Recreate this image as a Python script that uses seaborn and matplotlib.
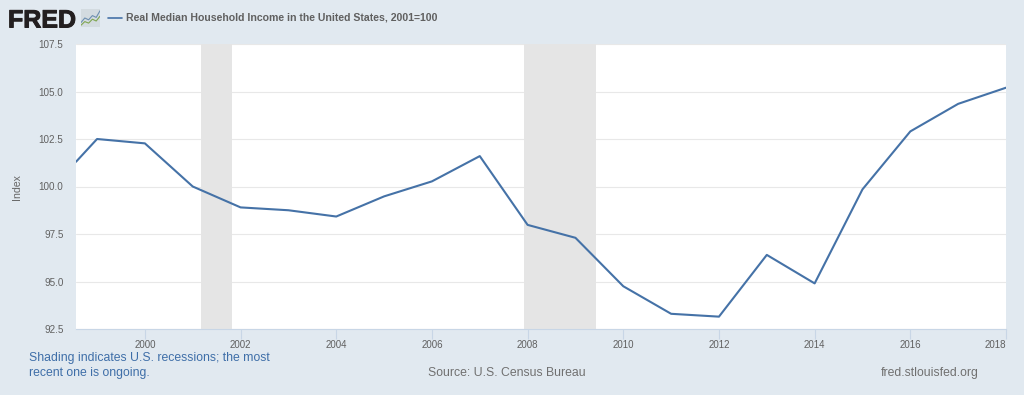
import matplotlib
matplotlib.use('Agg')
import matplotlib.pyplot as plt
import matplotlib.patheffects as pe
import pandas as pd
import seaborn as sns

# Values
years = [1998.56, 1999, 2000, 2001, 2002, 2003, 2004, 2005, 2006, 2007, 2008,
         2009, 2010, 2011, 2012, 2013, 2014, 2015, 2016, 2017, 2018]
income = [101.3, 102.5, 102.27, 100.0, 98.9, 98.75, 98.42, 99.48, 100.27, 101.6, 97.98,
          97.3, 94.75, 93.3, 93.15, 96.4, 94.9, 99.85, 102.9, 104.35, 105.2]
recessions = [(2001.17, 2001.83), (2007.92, 2009.42)]
x_ticks = [2000, 2002, 2004, 2006, 2008, 2010, 2012, 2014, 2016, 2018]
y_ticks = [92.5, 95.0, 97.5, 100.0, 102.5, 105.0, 107.5]

# Small logo icon lines
icon_x = [0, 1, 2, 3, 4, 5]
icon_blue = [1.5, 3.0, 2.4, 3.8, 3.2, 5.4]
icon_green = [0.6, 1.8, 1.3, 2.6, 2.0, 3.6]

BG = '#e1e9f0'
LINE = '#4572a7'
W, H = 1024, 395

sns.set_theme(style='white')
plt.rcParams['font.family'] = ['Liberation Sans', 'DejaVu Sans']

fig = plt.figure(figsize=(W / 100, H / 100), dpi=100, facecolor=BG)
ax = fig.add_axes([76 / W, 1 - 329 / H, 930 / W, 285 / H])

df = pd.DataFrame({'Year': years, 'Income': income})

for start, end in recessions:
    ax.axvspan(start, end, color='#e5e5e5', lw=0, zorder=1)

sns.lineplot(data=df, x='Year', y='Income', color=LINE, linewidth=1.5, ax=ax, zorder=3)

ax.set_xlim(1998.56, 2018)
ax.set_ylim(92.5, 107.5)
ax.set_xticks(x_ticks)
ax.set_yticks(y_ticks)
ax.set_yticklabels([f'{v:.1f}' for v in y_ticks])
ax.grid(True, axis='y', color='#e8e8e8', linewidth=0.8, zorder=0)
ax.grid(False, axis='x')
ax.set_axisbelow(True)
ax.set_facecolor('white')
for name, spine in ax.spines.items():
    spine.set_visible(name == 'bottom')
ax.spines['bottom'].set_color('#c8d6e6')
ax.spines['bottom'].set_linewidth(0.8)

ax.tick_params(axis='x', length=7, width=0.8, color='#c8d6e6', labelsize=7,
               labelcolor='#606060', pad=1, bottom=True)
ax.tick_params(axis='y', length=0, labelsize=7.1, labelcolor='#606060', pad=9)
labels = ax.get_xticklabels()
labels[-1].set_ha('right')
ax.set_xlabel('')
ax.set_ylabel('')
fig.text(17 / W, 1 - 187 / H, 'Index', rotation=90, ha='center', va='center',
         fontsize=7.6, color='#666666')

# Header
fig.text(8 / W, 1 - 18 / H, 'FRED', fontsize=18, fontweight='bold', color='#231f20',
         ha='left', va='center_baseline',
         path_effects=[pe.withStroke(linewidth=0.7, foreground='#231f20')])
icon = fig.add_axes([81 / W, 1 - 27 / H, 19 / W, 18 / H], facecolor='#d3dbe0')
sns.lineplot(x=icon_x, y=icon_blue, color='#6d8fb0', linewidth=0.8, ax=icon)
sns.lineplot(x=icon_x, y=icon_green, color='#7fa650', linewidth=0.8, ax=icon)
icon.set_xlim(0, 5)
icon.set_ylim(0, 6)
icon.set_xticks([])
icon.set_yticks([])
icon.set_xlabel('')
icon.set_ylabel('')
for spine in icon.spines.values():
    spine.set_visible(False)

fig.add_artist(plt.Line2D([108 / W, 122 / W], [1 - 17.5 / H] * 2, color=LINE, linewidth=1.2))
fig.text(126.5 / W, 1 - 17.5 / H, 'Real Median Household Income in the United States, 2001=100',
         fontsize=7.55, fontweight='bold', color='#606060', ha='left', va='center')

# Footer
fig.text(29 / W, 1 - 358 / H, 'Shading indicates U.S. recessions; the most', fontsize=8.8,
         color='#3e6ea8', ha='left', va='center')
fig.text(29 / W, 1 - 373 / H, 'recent one is ongoing.', fontsize=8.8,
         color='#3e6ea8', ha='left', va='center')
fig.text(507 / W, 1 - 373 / H, 'Source: U.S. Census Bureau', fontsize=8.85,
         color='#707070', ha='center', va='center')
fig.text(979 / W, 1 - 373 / H, 'fred.stlouisfed.org', fontsize=8.8,
         color='#707070', ha='right', va='center')

fig.savefig('out.png', dpi=100, facecolor=BG)
